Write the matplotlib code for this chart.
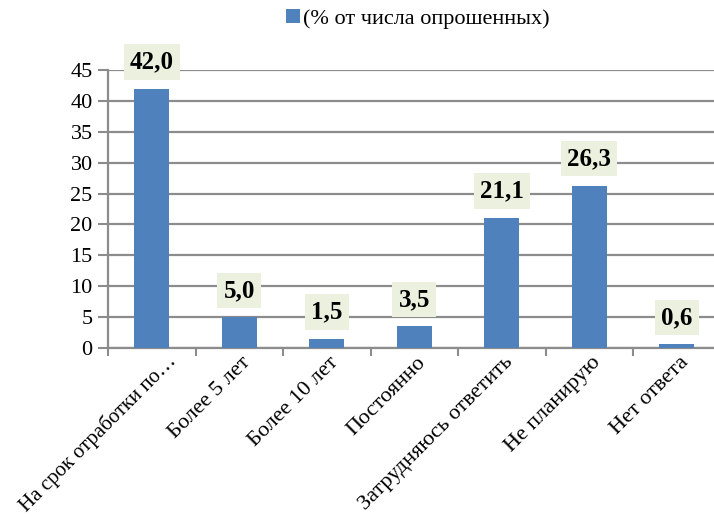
import numpy as np
import matplotlib.pyplot as plt
from matplotlib.transforms import ScaledTranslation, blended_transform_factory

# survey answers, share of respondents in percent
categories = ['На срок отработки по…', 'Более 5 лет', 'Более 10 лет', 'Постоянно',
              'Затрудняюсь ответить', 'Не планирую', 'Нет ответа']
values = [42.0, 5.0, 1.5, 3.5, 21.1, 26.3, 0.6]
series_name = '(% от числа опрошенных)'
y_ticks = [0, 5, 10, 15, 20, 25, 30, 35, 40, 45]

plt.rcParams['font.family'] = ['Liberation Serif', 'DejaVu Serif']

bar_color = '#4F81BD'
grid_color = '#8C8C8C'

fig = plt.figure(figsize=(7.14, 5.17), dpi=100)
ax = fig.add_axes([108 / 714, 169 / 517, 612.5 / 714, 278 / 517])

x = np.arange(len(categories))
bars = ax.bar(x, values, width=0.4, color=bar_color, label=series_name, zorder=3)

ax.set_xlim(-0.5, len(categories) - 0.5)
ax.set_ylim(0, 45)
ax.set_yticks(y_ticks)
ax.set_yticklabels([str(t) for t in y_ticks], fontsize=16)
ax.yaxis.grid(True, color=grid_color, linewidth=1.6, zorder=0)

# tick marks on the category boundaries, labels drawn separately
ax.set_xticks(np.arange(len(categories) + 1) - 0.5)
ax.set_xticklabels([])
ax.tick_params(axis='x', length=6, width=1.5, color=grid_color)
ax.tick_params(axis='y', length=7, width=1.5, color=grid_color, pad=4)

for side in ['top', 'right']:
    ax.spines[side].set_visible(False)
for side in ['left', 'bottom']:
    ax.spines[side].set_color(grid_color)
    ax.spines[side].set_linewidth(1.6)

# rotated category names; the long first one is nudged right to stay on the canvas
base = blended_transform_factory(ax.transData, ax.transAxes)
for i, cat in enumerate(categories):
    dx, dy, fs = (14, -3, 15) if i == 0 else (2, -5, 16)
    off = ScaledTranslation(dx / 100, dy / 100, fig.dpi_scale_trans)
    ax.text(i, 0, cat, transform=base + off, rotation=45, ha='right', va='top',
            rotation_mode='anchor', fontsize=fs, clip_on=False)

for b, v in zip(bars, values):
    ax.annotate(f'{v:.1f}'.replace('.', ','),
                xy=(b.get_x() + b.get_width() / 2, v),
                xytext=(0, 11), textcoords='offset points',
                ha='center', va='bottom', fontsize=18, fontweight='bold',
                bbox=dict(boxstyle='square,pad=0.25', facecolor='#EBF1DE', edgecolor='none'),
                annotation_clip=False, zorder=4)

ax.legend(loc='center', bbox_to_anchor=(418 / 714, 1 - 19 / 517),
          bbox_transform=fig.transFigure, frameon=False, fontsize=16,
          handlelength=0.6, handleheight=0.6, handletextpad=0.15)

fig.savefig('out.png', dpi=100)
